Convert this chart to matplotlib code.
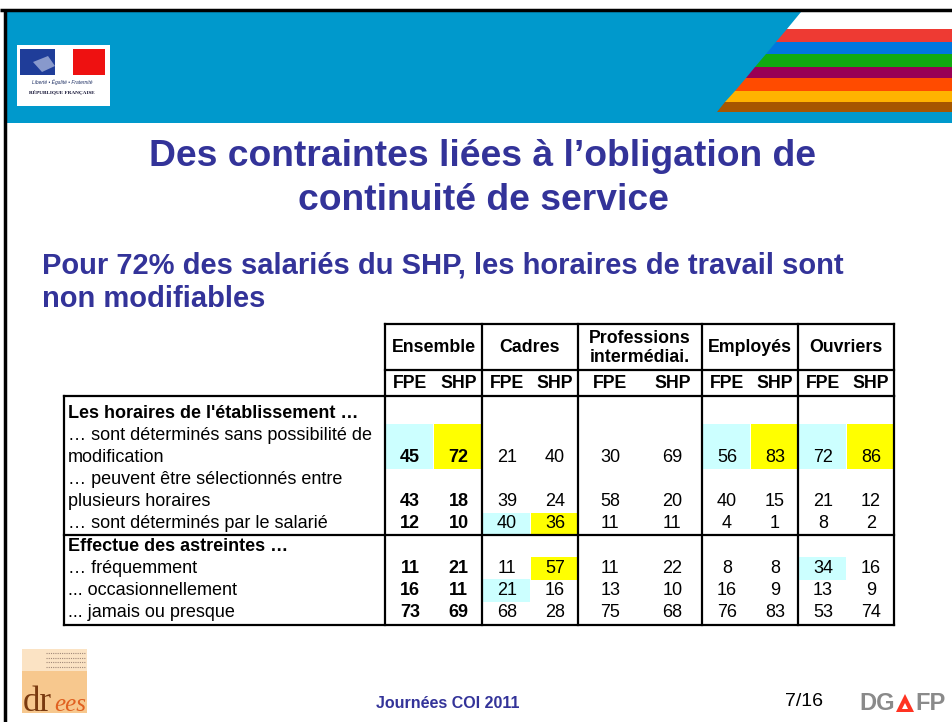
import matplotlib
matplotlib.use("Agg")
import matplotlib.pyplot as plt
from matplotlib.patches import Rectangle, Polygon

plt.rcParams['font.family'] = ['Liberation Sans', 'DejaVu Sans']

# ---------------- data ----------------
title_lines = ["Des contraintes liées à l\u2019obligation de", "continuité de service"]
subtitle_lines = ["Pour 72% des salariés du SHP, les horaires de travail sont", "non modifiables"]
groups = ["Ensemble", "Cadres", "Professions\nintermédiai.", "Employés", "Ouvriers"]
subcols = ["FPE", "SHP"]

row_lines = [
    "Les horaires de l'établissement \u2026",
    "\u2026 sont déterminés sans possibilité de",
    "modification",
    "\u2026 peuvent être sélectionnés entre",
    "plusieurs horaires",
    "\u2026 sont déterminés par le salarié",
    "Effectue des astreintes \u2026",
    "\u2026 fréquemment",
    "... occasionnellement",
    "... jamais ou presque",
]
bold_lines = [0, 6]

sans_modification = [45, 72, 21, 40, 30, 69, 56, 83, 72, 86]
selectionnes = [43, 18, 39, 24, 58, 20, 40, 15, 21, 12]
par_salarie = [12, 10, 40, 36, 11, 11, 4, 1, 8, 2]
frequemment = [11, 21, 11, 57, 11, 22, 8, 8, 34, 16]
occasionnellement = [16, 11, 21, 16, 13, 10, 16, 9, 13, 9]
jamais = [73, 69, 68, 28, 75, 68, 76, 83, 53, 74]

# (value row, line index of numbers, number of text lines)
value_rows = [
    (sans_modification, 2, 2),
    (selectionnes, 4, 2),
    (par_salarie, 5, 1),
    (frequemment, 7, 1),
    (occasionnellement, 8, 1),
    (jamais, 9, 1),
]
# highlighted cells: (value row index, column index)
cyan_cells = [(0, 0), (0, 6), (0, 8), (2, 2), (4, 2), (3, 8)]
yellow_cells = [(0, 1), (0, 7), (0, 9), (2, 3), (3, 3)]

# ---------------- figure ----------------
W, H = 953, 722
fig = plt.figure(figsize=(W / 100, H / 100), dpi=100)
ax = fig.add_axes([0, 0, 1, 1])
ax.set_xlim(0, W)
ax.set_ylim(H, 0)
ax.axis('off')

TITLE_C = '#333399'
BLUE = '#0099CC'

# header band
ax.add_patch(Rectangle((4, 11), W, 112, color=BLUE, lw=0, zorder=1))
# diagonal white area + stripes
x_top, y_top, x_bot, y_bot = 801, 12, 717, 112
def diag_x(y):
    return x_top + (x_bot - x_top) * (y - y_top) / (y_bot - y_top)
stripes = [(12, 29, 'white'), (29, 42, '#EE3A33'), (42, 54, '#0077DD'),
           (54, 67, '#11AA11'), (67, 78, '#990055'), (78, 91, '#FF4B00'),
           (91, 102, '#FFB300'), (102, 112, '#A65600')]
for y0, y1, c in stripes:
    ax.add_patch(Polygon([(diag_x(y0), y0), (W, y0), (W, y1), (diag_x(y1), y1)],
                         closed=True, color=c, lw=0, zorder=2))
# borders
ax.plot([0, W], [10, 10], color='black', lw=2.5, zorder=5, solid_capstyle='butt')
ax.plot([5, 5], [9, H], color='black', lw=2.5, zorder=5, solid_capstyle='butt')

# Marianne logo
ax.add_patch(Rectangle((17, 45), 93, 61, color='white', lw=0, zorder=3))
ax.add_patch(Rectangle((20, 49), 35, 26, color='#1F3D99', lw=0, zorder=4))
ax.add_patch(Rectangle((73, 49), 32, 26, color='#EE1111', lw=0, zorder=4))
ax.add_patch(Polygon([(33, 62), (48, 56), (55, 66), (42, 72)], color='#8899CC', lw=0, zorder=4))
ax.text(62, 82, "Liberté \u2022 Égalité \u2022 Fraternité", fontsize=3.6, style='italic',
        color='#223366', ha='center', va='center', zorder=5)
ax.text(62, 93, "RÉPUBLIQUE FRANÇAISE", fontsize=3.8, fontweight='bold',
        family=['Liberation Serif', 'DejaVu Serif'], color='#111133',
        ha='center', va='center', zorder=5)

# title
ax.text(483, 156, title_lines[0], fontsize=26.8, fontweight='bold', color=TITLE_C,
        ha='center', va='center')
ax.text(483, 201, title_lines[1], fontsize=26.8, fontweight='bold', color=TITLE_C,
        ha='center', va='center')
ax.text(42, 266, subtitle_lines[0], fontsize=21, fontweight='bold', color=TITLE_C,
        ha='left', va='center')
ax.text(42, 299, subtitle_lines[1], fontsize=21, fontweight='bold', color=TITLE_C,
        ha='left', va='center')

# ---------------- table ----------------
bounds = [385, 482, 578, 702, 798, 894]
col_x = []
col_edges = []
for g in range(len(groups)):
    l, r = bounds[g], bounds[g + 1]
    w = r - l
    col_x += [l + 0.26 * w, l + 0.76 * w]
    col_edges += [(l, l + w / 2), (l + w / 2, r)]

line_y0, pitch = 413, 22.2
line_y = [line_y0 + pitch * i for i in range(len(row_lines))]

# highlights
for cells, colr in ((cyan_cells, '#CCFFFF'), (yellow_cells, '#FFFF00')):
    for ri, ci in cells:
        _, li, n = value_rows[ri]
        ytop = line_y[li - n + 1] - 11.5
        ybot = line_y[li] + 11.5
        x0, x1 = col_edges[ci]
        ax.add_patch(Rectangle((x0 + 1, ytop), x1 - x0 - 1, ybot - ytop,
                               color=colr, lw=0, zorder=2))

LW = 1.6
kw = dict(color='black', lw=LW, zorder=6, solid_capstyle='projecting')
# header grid
ax.plot([bounds[0], bounds[-1]], [324, 324], **kw)
ax.plot([bounds[0], bounds[-1]], [370, 370], **kw)
for b in bounds:
    ax.plot([b, b], [324, 396], **kw)
# body grid
for yy in (396, 535, 625):
    ax.plot([64, bounds[-1]], [yy, yy], **kw)
for b in [64] + bounds:
    ax.plot([b, b], [396, 625], **kw)

# header text
for g, name in enumerate(groups):
    cx = (bounds[g] + bounds[g + 1]) / 2
    ax.text(cx, 348, name, fontsize=12.8, fontweight='bold', ha='center', va='center',
            linespacing=1.2, zorder=7)
for ci, cx in enumerate(col_x):
    ax.text(cx, 384, subcols[ci % 2], fontsize=12.8, fontweight='bold',
            ha='center', va='center', zorder=7)

# row labels
for i, lab in enumerate(row_lines):
    ax.text(68, line_y[i], lab, fontsize=13, ha='left', va='center',
            fontweight='bold' if i in bold_lines else 'normal', zorder=7)

# values
for vals, li, n in value_rows:
    for ci, v in enumerate(vals):
        ax.text(col_x[ci], line_y[li], str(v), fontsize=13, ha='center', va='center',
                fontweight='bold' if ci < 2 else 'normal', zorder=7)

# ---------------- footer ----------------
ax.add_patch(Rectangle((22, 649), 65, 64, color='#F7C88E', lw=0, zorder=3))
ax.add_patch(Rectangle((22, 649), 65, 22, color='#FBE3C4', lw=0, zorder=3))
for k in range(4):
    ax.plot([46, 85], [653 + 4.5 * k, 653 + 4.5 * k], color='#A08878', lw=0.8,
            ls=(0, (1, 1)), zorder=4)
ax.text(23, 711, "dr", fontsize=25, family=['Liberation Serif', 'DejaVu Serif'],
        color='#7A3A10', ha='left', va='baseline', zorder=5)
ax.text(86, 711, "ees", fontsize=18, style='italic',
        family=['Liberation Serif', 'DejaVu Serif'],
        color='#E06020', ha='right', va='baseline', zorder=5)

ax.text(448, 703, "Journées COI 2011", fontsize=11.5, fontweight='bold', color=TITLE_C,
        ha='center', va='center')
ax.text(804, 701, "7/16", fontsize=14, color='black', ha='center', va='center')
# DGAFP
ax.text(895, 703, "DG", fontsize=17, fontweight='bold', color='#8A8A8A',
        ha='right', va='center')
ax.add_patch(Polygon([(896, 712), (905, 694), (914, 712)], color='#FF3322', lw=0))
ax.add_patch(Polygon([(902, 709), (905, 703), (908, 709)], color='white', lw=0))
ax.text(915, 703, "FP", fontsize=17, fontweight='bold', color='#8A8A8A',
        ha='left', va='center')

fig.savefig('out.png', dpi=100)
